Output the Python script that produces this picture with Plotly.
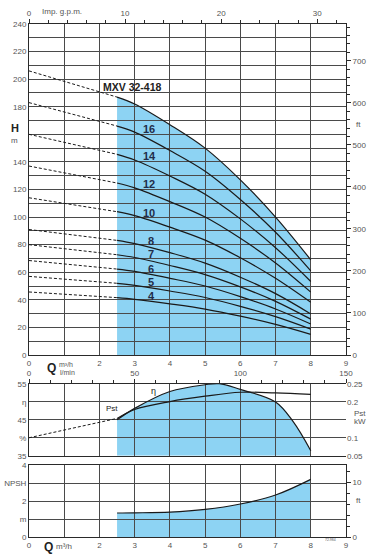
import plotly.graph_objects as go

# ---------------- data ----------------
Q_DASH = [0.0, 2.5]
Q_SOLID = [2.5, 3.0, 4.0, 5.0, 6.0, 7.0, 8.0]

STAGES = [18, 16, 14, 12, 10, 8, 7, 6, 5, 4]
H_AT_ZERO = [206, 183, 160, 137, 114, 91, 80, 68.5, 57, 45.7]
H_18 = [187, 182, 167, 150, 127, 100, 69]
H_16 = [166, 161.6, 148.3, 133.3, 112.8, 89, 61]
H_14 = [145.5, 141.4, 129.8, 116.6, 98.7, 77.8, 53.3]
H_12 = [124.7, 121.2, 111.2, 100, 84.6, 66.7, 45.6]
H_10 = [103.9, 101, 92.7, 83.3, 70.5, 55.6, 38.2]
H_8 = [83.1, 80.8, 74.2, 66.6, 56.4, 44.5, 29.8]
H_7 = [72.7, 70.7, 64.9, 58.3, 49.4, 38.9, 26.0]
H_6 = [62.3, 60.6, 55.6, 50.0, 42.3, 33.4, 22.5]
H_5 = [52.0, 50.5, 46.4, 41.7, 35.3, 27.8, 18.8]
H_4 = [41.6, 40.4, 37.1, 33.3, 28.2, 22.2, 15.0]
H_CURVES = [H_18, H_16, H_14, H_12, H_10, H_8, H_7, H_6, H_5, H_4]
MODEL = "MXV 32-418"

Q_EFF = [2.5, 3.0, 4.0, 5.0, 5.4, 6.0, 7.0, 7.5, 8.0]
ETA = [45.0, 48.2, 52.9, 54.8, 55.1, 53.5, 50.0, 44.5, 36.4]

Q_PST_DASH = [0.0, 2.5]
PST_DASH = [0.100, 0.154]
Q_PST = [2.5, 3.0, 4.0, 5.0, 6.0, 7.0, 8.0]
PST = [0.154, 0.179, 0.201, 0.216, 0.227, 0.225, 0.221]

Q_NPSH = [2.5, 3.0, 4.0, 5.0, 6.0, 7.0, 8.0]
NPSH = [1.35, 1.36, 1.40, 1.55, 1.85, 2.35, 3.22]

X_TICKS = [0, 1, 2, 3, 4, 5, 6, 7, 8, 9]
X_TICKTEXT = ["0", "", "2", "3", "4", "5", "6", "7", "8", "9"]
H_TICKS = list(range(0, 250, 10))
H_TICKTEXT = [str(v) if (v % 20 == 0 and v != 160) else "" for v in H_TICKS]

# ---------------- style ----------------
W, H = 371, 554
BLUE = "#8dd3f3"
GRID = "#4a4a4a"
AX = "#2a2a2a"
TXT = "#555555"
DARK = "#222222"
NAVY = "#1f2d4a"
FONT = "Liberation Sans, Arial, sans-serif"


def px(xp):
    return xp / W


def py(yp):
    return 1 - yp / H


def smooth_path(xs, ys, base):
    pts = list(zip(xs, ys))
    n = len(pts)
    d = f"M {xs[0]},{base} L {xs[0]},{ys[0]}"
    for i in range(n - 1):
        p0 = pts[max(i - 1, 0)]
        p1 = pts[i]
        p2 = pts[i + 1]
        p3 = pts[min(i + 2, n - 1)]
        c1 = (p1[0] + (p2[0] - p0[0]) / 6, p1[1] + (p2[1] - p0[1]) / 6)
        c2 = (p2[0] - (p3[0] - p1[0]) / 6, p2[1] - (p3[1] - p1[1]) / 6)
        d += f" C {c1[0]},{c1[1]} {c2[0]},{c2[1]} {p2[0]},{p2[1]}"
    d += f" L {xs[-1]},{base} Z"
    return d


fig = go.Figure()

# ---- main H-Q curves ----
for n, h0, hc in zip(STAGES, H_AT_ZERO, H_CURVES):
    fig.add_trace(go.Scatter(x=Q_DASH, y=[h0, hc[0]], mode="lines",
                             line=dict(color="#1a1a1a", width=1, dash="3px,2px"),
                             xaxis="x", yaxis="y", hoverinfo="skip"))
    fig.add_trace(go.Scatter(x=Q_SOLID, y=hc, mode="lines",
                             line=dict(color="#1a1a1a", width=1.2, shape="spline"),
                             xaxis="x", yaxis="y", hoverinfo="skip"))

# ---- efficiency / power ----
fig.add_trace(go.Scatter(x=Q_EFF, y=ETA, mode="lines",
                         line=dict(color="#1a1a1a", width=1.2, shape="spline"),
                         xaxis="x3", yaxis="y3", hoverinfo="skip"))
fig.add_trace(go.Scatter(x=Q_PST_DASH, y=PST_DASH, mode="lines",
                         line=dict(color="#1a1a1a", width=1, dash="3px,2px"),
                         xaxis="x3", yaxis="y4", hoverinfo="skip"))
fig.add_trace(go.Scatter(x=Q_PST, y=PST, mode="lines",
                         line=dict(color="#1a1a1a", width=1.2, shape="spline"),
                         xaxis="x3", yaxis="y4", hoverinfo="skip"))

# ---- NPSH ----
fig.add_trace(go.Scatter(x=Q_NPSH, y=NPSH, mode="lines",
                         line=dict(color="#1a1a1a", width=1.2, shape="spline"),
                         xaxis="x5", yaxis="y5", hoverinfo="skip"))

# empty traces so that the secondary (unit-conversion) axes get drawn
for xa, ya in [("x2", "y"), ("x", "y2"), ("x4", "y3"), ("x5", "y6")]:
    fig.add_trace(go.Scatter(x=[None], y=[None], mode="lines", xaxis=xa, yaxis=ya,
                             hoverinfo="skip"))

# blue areas drawn under the grid
shapes = [
    dict(type="path", path=smooth_path(Q_SOLID, H_18, 0), xref="x", yref="y",
         fillcolor=BLUE, line=dict(width=0), layer="below"),
    dict(type="path", path=smooth_path(Q_EFF, ETA, 35), xref="x3", yref="y3",
         fillcolor=BLUE, line=dict(width=0), layer="below"),
    dict(type="path", path=smooth_path(Q_NPSH, NPSH, 0), xref="x5", yref="y5",
         fillcolor=BLUE, line=dict(width=0), layer="below"),
]

XDOM = [px(29), px(346)]
MAIN_DOM = [py(355), py(24)]
EFF_DOM = [py(455.7), py(384)]
NPSH_DOM = [py(537.3), py(465.3)]

tickfont = dict(family=FONT, size=8, color=TXT)
common = dict(zeroline=False, tickfont=tickfont, linecolor=AX, linewidth=1,
              gridcolor=GRID, gridwidth=1, tickcolor=AX, tickwidth=1,
              automargin=False)

layout = dict(
    width=W, height=H, margin=dict(l=0, r=0, t=0, b=0, pad=0),
    paper_bgcolor="white", plot_bgcolor="white", showlegend=False,
    font=dict(family=FONT, size=8, color=TXT),
    shapes=shapes,
    # main panel
    xaxis=dict(domain=XDOM, anchor="y", range=[0, 9], tickmode="array",
               tickvals=X_TICKS, ticktext=X_TICKTEXT, ticks="", showgrid=True,
               showline=True, **common),
    yaxis=dict(domain=MAIN_DOM, anchor="x", range=[0, 240], tickmode="array",
               tickvals=H_TICKS, ticktext=H_TICKTEXT, ticks="", showgrid=True,
               showline=True, **common),
    xaxis2=dict(overlaying="x", anchor="y", side="top", range=[0, 9 * 3.6662],
                tick0=0, dtick=10, ticks="outside", ticklen=4, showgrid=False,
                showline=True, minor=dict(dtick=2, ticks="outside", ticklen=3,
                                          tickcolor=AX, showgrid=False),
                **common),
    yaxis2=dict(overlaying="y", anchor="x", side="right", range=[0, 240 / 0.3048],
                tick0=0, dtick=100, ticks="outside", ticklen=4, showgrid=False,
                showline=True, minor=dict(dtick=20, ticks="outside", ticklen=3,
                                          tickcolor=AX, showgrid=False),
                **common),
    # efficiency panel
    xaxis3=dict(domain=XDOM, anchor="y3", range=[0, 9], tickmode="array",
                tickvals=X_TICKS[:-1], showticklabels=False, ticks="",
                showgrid=True, showline=True, **common),
    yaxis3=dict(domain=EFF_DOM, anchor="x3", range=[35, 55], tickmode="array",
                tickvals=[35, 40, 45, 50, 55], ticktext=["35", "%", "45", "η", "55"],
                ticks="", showgrid=True, showline=True, **common),
    xaxis4=dict(overlaying="x3", anchor="y3", side="top", range=[0, 150],
                tick0=0, dtick=50, ticks="outside", ticklen=4, showgrid=False,
                showline=True, minor=dict(dtick=10, ticks="outside", ticklen=3,
                                          tickcolor=AX, showgrid=False),
                **common),
    yaxis4=dict(overlaying="y3", anchor="x3", side="right", range=[0.05, 0.25],
                tickmode="array", tickvals=[0.05, 0.1, 0.2, 0.25],
                ticktext=["0.05", "0.1", "0.2", "0.25"], ticks="",
                showgrid=False, showline=False, **common),
    # NPSH panel
    xaxis5=dict(domain=XDOM, anchor="y5", range=[0, 9], tickmode="array",
                tickvals=X_TICKS, ticktext=X_TICKTEXT, ticks="", showgrid=True,
                showline=True, mirror=True, **common),
    yaxis5=dict(domain=NPSH_DOM, anchor="x5", range=[0, 4], tickmode="array",
                tickvals=[0, 1, 2, 3, 4], ticktext=["0", "m", "2", "NPSH", "4"],
                ticks="", showgrid=True, showline=True, **common),
    yaxis6=dict(overlaying="y5", anchor="x5", side="right", range=[0, 4 / 0.3048],
                tick0=0, dtick=10, ticks="outside", ticklen=4, showgrid=False,
                showline=True, minor=dict(dtick=2, ticks="outside", ticklen=3,
                                          tickcolor=AX, showgrid=False),
                **common),
)

ann = []


def ptext(text, xp, yp, size=8, color=TXT, bold=False, xanchor="center"):
    t = f"<b>{text}</b>" if bold else text
    ann.append(dict(text=t, x=px(xp), y=py(yp), xref="paper", yref="paper",
                    showarrow=False, xanchor=xanchor, yanchor="middle",
                    font=dict(family=FONT, size=size, color=color)))


# stage labels (positions in data coordinates)
LABEL_Q = [3.41, 3.41, 3.41, 3.41, 3.47, 3.47, 3.47, 3.47, 3.47]
LABEL_H = [163.8, 144.2, 123.9, 102.9, 82.8, 73.2, 62.3, 52.9, 43.0]
for n, lq, lh in zip(STAGES[1:], LABEL_Q, LABEL_H):
    ann.append(dict(text=f"<b>{n}</b>", x=lq, y=lh, xref="x", yref="y",
                    showarrow=False, font=dict(family=FONT, size=11, color=NAVY)))
ann.append(dict(text=f"<b>{MODEL}</b>", x=2.94, y=194.3, xref="x", yref="y",
                showarrow=False, font=dict(family=FONT, size=10.5, color=DARK)))

ptext("Imp. g.p.m.", 62, 12, 8)
ptext("H", 15, 128, 11, DARK, bold=True)
ptext("m", 15, 140, 8)
ptext("ft", 358, 125, 8)
ptext("Q", 51.5, 368, 12, DARK, bold=True)
ptext("m³/h", 66, 364.5, 7)
ptext("l/min", 67, 372, 7)
ptext("η", 153, 391, 9, DARK)
ptext("Pst", 112, 408, 8, DARK)
ptext("Pst", 352, 413, 8, xanchor="left")
ptext("kW", 352, 422, 8, xanchor="left")
ptext("ft", 358, 500.7, 8)
ptext("Q", 48.5, 546.5, 12, DARK, bold=True)
ptext("m³/h", 64, 546, 8)
ptext("72.984", 330, 540, 3.5)

layout["annotations"] = ann
fig.update_layout(**layout)
fig.write_html(
    "out.html",
    config={"displayModeBar": False, "staticPlot": True},
    post_script="document.body.style.margin='0';document.body.style.overflow='hidden';",
)
